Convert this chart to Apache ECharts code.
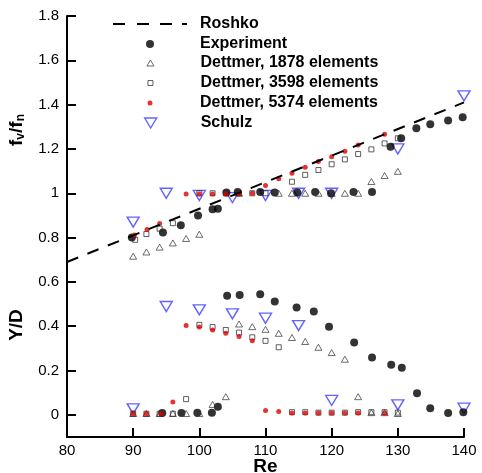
<!DOCTYPE html>
<html>
<head>
<meta charset="utf-8">
<script src="https://cdn.jsdelivr.net/npm/echarts@6/dist/echarts.min.js"></script>
<style>
  html, body { margin: 0; padding: 0; background: #fff; }
  #chart { width: 482px; height: 473px; }
</style>
</head>
<body>
<div id="chart"></div>
<script>
// [Re, value] pairs; upper branch is f_v/f_n, lower branch is Y/D
const roshko = [[80, 0.69], [140, 1.41]]

const experiment = [
  [89.8, 0.80], [94.5, 0.823], [97.2, 0.856], [99.8, 0.90], [102, 0.928], [102.8, 0.93],
  [104.1, 1.003], [105.8, 1.006], [109.2, 1.006], [111.4, 1.003], [114.8, 1.003], [117.5, 1.006],
  [119.9, 1.0], [123.3, 1.006], [126.1, 1.006], [128.9, 1.21], [130.5, 1.248], [132.8, 1.293],
  [134.9, 1.312], [137.6, 1.328], [139.8, 1.343],
  [94.4, 0.008], [97.3, 0.008], [99.7, 0.01], [101.9, 0.01], [102.8, 0.037],
  [104.2, 0.538], [106.1, 0.541], [109.2, 0.544], [111.4, 0.511], [114.7, 0.484], [117.3, 0.466],
  [119.6, 0.398], [123.4, 0.326], [126.1, 0.259], [129, 0.226], [130.6, 0.212], [132.9, 0.098],
  [134.9, 0.03], [137.6, 0.008], [139.9, 0.012]
]

const dettmer1878 = [
  [90, 0.716], [92, 0.735], [94, 0.757], [96, 0.776], [98, 0.796], [100, 0.815],
  [106, 1.0], [112, 1.0], [114, 1.0], [116, 1.0], [118, 1.0], [120, 1.0], [122, 1.0], [124, 1.0],
  [126, 1.053], [128, 1.08], [130, 1.099],
  [90, 0.006], [92, 0.006], [94, 0.006], [96, 0.006], [98, 0.006], [100, 0.006], [102, 0.047],
  [104, 0.082], [106, 0.41], [108, 0.398], [110, 0.386], [112, 0.368], [114, 0.349], [116, 0.331],
  [118, 0.305], [120, 0.281], [122, 0.251], [124, 0.082], [126, 0.01], [128, 0.01], [130, 0.006]
]

const dettmer3598 = [
  [90.3, 0.79], [92, 0.816], [94, 0.84], [96, 0.865], [100, 1.0], [102, 1.0], [104, 1.0],
  [106, 1.0], [108, 1.0], [110, 1.0], [114, 1.052], [116, 1.083], [118, 1.105], [120, 1.131],
  [122, 1.153], [124, 1.177], [126, 1.198], [128, 1.225], [130, 1.248],
  [90, 0.005], [92, 0.005], [94, 0.005], [96, 0.005], [98, 0.071], [100, 0.406], [102, 0.396],
  [104, 0.383], [106, 0.371], [108, 0.35], [110, 0.334], [112, 0.305], [114, 0.012], [116, 0.012],
  [118, 0.01], [120, 0.01], [122, 0.01], [124, 0.012], [126, 0.012], [128, 0.012], [130, 0.01]
]

const dettmer5374 = [
  [90.2, 0.812], [92.1, 0.837], [94, 0.863], [98, 0.997], [100, 0.997], [102, 0.997], [104, 0.997],
  [106, 0.997], [108, 1.0], [110, 1.035], [112, 1.065], [114, 1.09], [116, 1.117], [118, 1.143],
  [120, 1.165], [122, 1.19], [124, 1.218], [128, 1.266],
  [90, 0.005], [92, 0.005], [94.2, 0.005], [96, 0.058], [98, 0.403], [100, 0.396], [102, 0.383],
  [104, 0.368], [106, 0.353], [108, 0.334], [110, 0.02], [112, 0.015], [114, 0.008], [116, 0.008],
  [118, 0.008], [120, 0.008], [122, 0.008], [124, 0.008], [128, 0.008]
]

const schulz = [
  [90, 0.87], [95, 1.0], [100, 0.99], [105, 0.98], [110, 0.99], [115, 1.0], [120, 1.0],
  [130, 1.2], [140, 1.44],
  [90, 0.027], [95, 0.489], [100, 0.474], [105, 0.456], [110, 0.436], [115, 0.403],
  [120, 0.065], [130, 0.045], [140, 0.03]
]

const yTicks = [0, 0.2, 0.4, 0.6, 0.8, 1, 1.2, 1.4, 1.6, 1.8]

const FONT = 'Liberation Sans'
const BLUE = '#3c3cff'
const RED = '#dd0000'
const INV_TRI = 'path://M0,0L12,0L6,10Z'
// dashed stroke for the Roshko legend entry (line legends always add a marker otherwise)
const DASH_ICON = 'path://M0,0H12V2H0Z M24,0H36V2H24Z M47,0H59V2H47Z M69,0H74V2H69Z'

const chart = echarts.init(document.getElementById('chart'))

// one legend per row so every icon can keep its own size
const legendRows = [
  { name: 'Roshko', y: 25, w: 74, h: 2, icon: DASH_ICON, bw: 0 },
  { name: 'Experiment', y: 45, w: 8, h: 8, bw: 0 },
  { name: 'Dettmer, 1878 elements', y: 64, w: 7, h: 6, bw: 0.9 },
  { name: 'Dettmer, 3598 elements', y: 84, w: 5, h: 5, bw: 0.9 },
  { name: 'Dettmer, 5374 elements', y: 104, w: 5, h: 5, bw: 0 },
  { name: 'Schulz', y: 124, w: 12, h: 10, bw: 1.4 }
]
const legends = legendRows.map(r => ({
  data: [r.icon ? { name: r.name, icon: r.icon, itemStyle: { color: '#000' } } : r.name],
  selectedMode: false,
  orient: 'vertical',
  left: 150 - r.w / 2,
  top: r.y - 9,
  padding: 0,
  itemWidth: r.w,
  itemHeight: r.h,
  itemStyle: { borderWidth: r.bw },
  textStyle: {
    fontFamily: FONT,
    fontSize: 16,
    fontWeight: 'bold',
    color: '#000',
    padding: [0, 0, 0, 45 - r.w / 2]
  }
}))

const hollow = (border, width) => ({ color: 'rgba(0,0,0,0)', borderColor: border, borderWidth: width })

chart.setOption({
  animation: false,
  backgroundColor: '#fff',
  textStyle: { fontFamily: FONT },
  grid: { left: 67, right: 18, top: 16, bottom: 36, outerBoundsMode: 'none' },
  legend: legends,
  xAxis: {
    type: 'value',
    min: 80,
    max: 140,
    interval: 10,
    name: 'Re',
    nameLocation: 'middle',
    nameGap: 20,
    nameMoveOverlap: false,
    nameTextStyle: { fontFamily: FONT, fontSize: 19, fontWeight: 'bold', color: '#000' },
    axisLine: { onZero: false, lineStyle: { color: '#000', width: 2 } },
    axisTick: { inside: true, length: 9, lineStyle: { color: '#000', width: 2 } },
    axisLabel: { fontFamily: FONT, fontSize: 15, color: '#000', margin: 6 },
    splitLine: { show: false }
  },
  yAxis: {
    type: 'value',
    min: -0.1,
    max: 1.8,
    axisLine: { show: true, onZero: false, lineStyle: { color: '#000', width: 2 } },
    axisTick: { show: true, inside: true, length: 9, customValues: yTicks, lineStyle: { color: '#000', width: 2 } },
    axisLabel: {
      customValues: yTicks,
      fontFamily: FONT,
      fontSize: 15,
      color: '#000',
      margin: 8,
      formatter: v => String(+(+v).toFixed(1))
    },
    splitLine: { show: false }
  },
  graphic: [
    {
      type: 'text',
      x: 17,
      y: 130,
      rotation: Math.PI / 2,
      style: {
        text: 'f{s|v}/f{s|n}',
        align: 'center',
        verticalAlign: 'middle',
        fontFamily: FONT,
        fontSize: 19,
        fontWeight: 'bold',
        fill: '#000',
        rich: {
          s: { fontFamily: FONT, fontSize: 12, fontWeight: 'bold', fill: '#000', padding: [8, 0, 0, 0] }
        }
      }
    },
    {
      type: 'text',
      x: 17,
      y: 325,
      rotation: Math.PI / 2,
      style: {
        text: 'Y/D',
        align: 'center',
        verticalAlign: 'middle',
        fontFamily: FONT,
        fontSize: 19,
        fontWeight: 'bold',
        fill: '#000'
      }
    }
  ],
  series: [
    {
      name: 'Schulz',
      type: 'scatter',
      symbol: INV_TRI,
      symbolSize: [12, 10],
      itemStyle: hollow(BLUE, 1.4),
      data: schulz
    },
    {
      name: 'Roshko',
      type: 'line',
      symbol: 'none',
      lineStyle: { color: '#000', width: 2, type: [12, 10] },
      itemStyle: { color: '#000' },
      data: roshko
    },
    {
      name: 'Experiment',
      type: 'scatter',
      symbol: 'circle',
      symbolSize: 8,
      itemStyle: { color: '#000' },
      data: experiment
    },
    {
      name: 'Dettmer, 1878 elements',
      type: 'scatter',
      symbol: 'triangle',
      symbolSize: [7, 6],
      itemStyle: hollow('#333', 0.9),
      data: dettmer1878
    },
    {
      name: 'Dettmer, 3598 elements',
      type: 'scatter',
      symbol: 'rect',
      symbolSize: 5,
      itemStyle: hollow('#222', 0.9),
      data: dettmer3598
    },
    {
      name: 'Dettmer, 5374 elements',
      type: 'scatter',
      symbol: 'circle',
      symbolSize: 5,
      itemStyle: { color: RED },
      data: dettmer5374
    }
  ]
})
</script>
</body>
</html>
